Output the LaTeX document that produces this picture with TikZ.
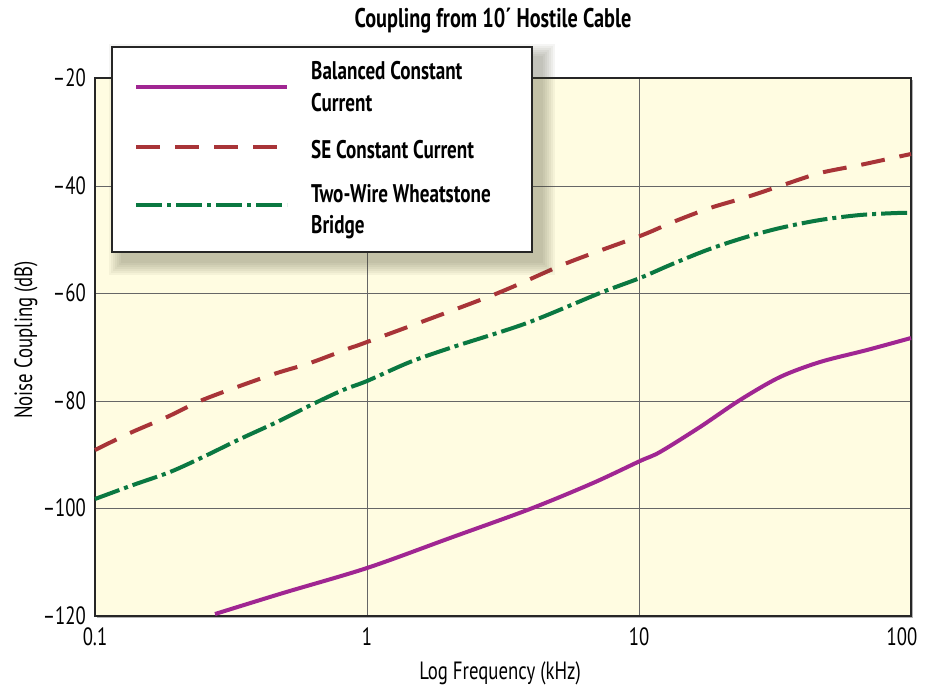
\documentclass[tikz,border=0pt]{standalone}
\usepackage{fontspec}
\setmainfont{PT Sans}[FakeStretch=0.75]
\usetikzlibrary{positioning}

\definecolor{plotbg}{RGB}{255,252,225}
\definecolor{balcol}{RGB}{160,38,146}
\definecolor{secol}{RGB}{168,52,56}
\definecolor{wtbcol}{RGB}{10,120,65}
\definecolor{shadowc}{RGB}{70,70,45}

\tikzset{
  ticklab/.style={font=\fontsize{25}{25}\selectfont, inner sep=0pt},
  axlab/.style={font=\fontsize{25}{25}\selectfont, inner sep=0pt},
  titlelab/.style={font=\bfseries\fontsize{27}{27}\selectfont, inner sep=0pt},
  legtext/.style={font=\bfseries\fontsize{25.5}{25.5}\selectfont, inner sep=0pt, anchor=base west},
  gridln/.style={black!60, line width=1pt},
  balanced/.style={balcol, line width=4pt},
  securr/.style={secol, line width=4pt, dash pattern=on 24pt off 15pt},
  wheat/.style={wtbcol, line width=4pt, dash pattern=on 26pt off 5pt on 4pt off 5pt},
}

\begin{document}
\begin{tikzpicture}[x=1pt,y=-1pt]
	\useasboundingbox (0,0) rectangle (925,689);
	\fill[white] (0,0) rectangle (925,689);
	
	\node[titlelab, anchor=base] (title) at (493,27) {Coupling from 10´ Hostile Cable};
	
	% plot area
	\fill[black!30] (97,80) rectangle (913,618);
	\fill[plotbg] (95,78) rectangle (911,616);
	\foreach \x in {367,639}
		\draw[gridln] (\x,78) -- (\x,616);
	\foreach \y in {186,293,401,508}
		\draw[gridln] (95,\y) -- (911,\y);
	\draw[black!85, line width=2pt] (95,78) rectangle (911,616);
	
	% axis labels
	\foreach \v/\y in {20/78,40/186,60/293,80/401,100/508,120/616}
		\node[ticklab, anchor=east] (yl\v) at (86,\y) {–\v};
	\node[ticklab] (xl1) at (95,637) {0.1};
	\node[ticklab] (xl2) at (367,637) {1};
	\node[ticklab] (xl3) at (639,637) {10};
	\node[ticklab] (xl4) at (902,637) {100};
	\node[axlab] (xname) at (500,673) {Log Frequency (kHz)};
	\node[axlab, rotate=90] (yname) at (26,340) {Noise Coupling (dB)};
	
	% curves
	\draw[balanced] plot[smooth, tension=.5] coordinates {(215,614) (283,593) (367,568) (450,538) (530,509) (593,483) (640,461) (660,452) (700,427) (740,400) (780,377) (820,362) (867,350) (911,338)};
	\draw[securr] plot[smooth, tension=.5] coordinates {(95,450) (130,433) (167,417) (200,401) (237,387) (277,373) (310,363) (350,348) (367,342) (493,295) (567,263) (640,236) (673,222) (710,208) (747,197) (783,185) (820,173) (860,165) (897,157) (911,154)};
	\draw[wheat] plot[smooth, tension=.5] coordinates {(95,499) (133,485) (170,472) (203,457) (240,439) (277,422) (313,404) (343,390) (367,381) (410,362) (453,347) (527,323) (600,293) (640,278) (670,265) (707,250) (743,238) (780,228) (820,220) (860,215) (897,213) (911,213)};
	
	% legend
	\foreach \b in {1,3,...,13}
		\fill[shadowc, opacity=.05] ({122-\b},{57-\b}) rectangle ({542+\b},{262+\b});
	\draw[black!85, line width=1.5pt, fill=white] (112,47) rectangle (532,252);
	\coordinate (b1) at (136,87);  \coordinate (b2) at (287,87);
	\coordinate (s1) at (136,147); \coordinate (s2) at (287,147);
	\coordinate (w1) at (136,205); \coordinate (w2) at (287,205);
	\draw[balanced] (b1) -- (b2);
	\draw[securr] (s1) -- (s2);
	\draw[wheat] (w1) -- (w2);
	\node[legtext] (bal1) at (311,79) {Balanced Constant};
	\node[legtext] (bal2) at (311,111) {Current};
	\node[legtext] (se) at (311,158) {SE Constant Current};
	\node[legtext] (tw1) at (311,202) {Two-Wire Wheatstone};
	\node[legtext] (tw2) at (311,233) {Bridge};
\end{tikzpicture}
\end{document}
